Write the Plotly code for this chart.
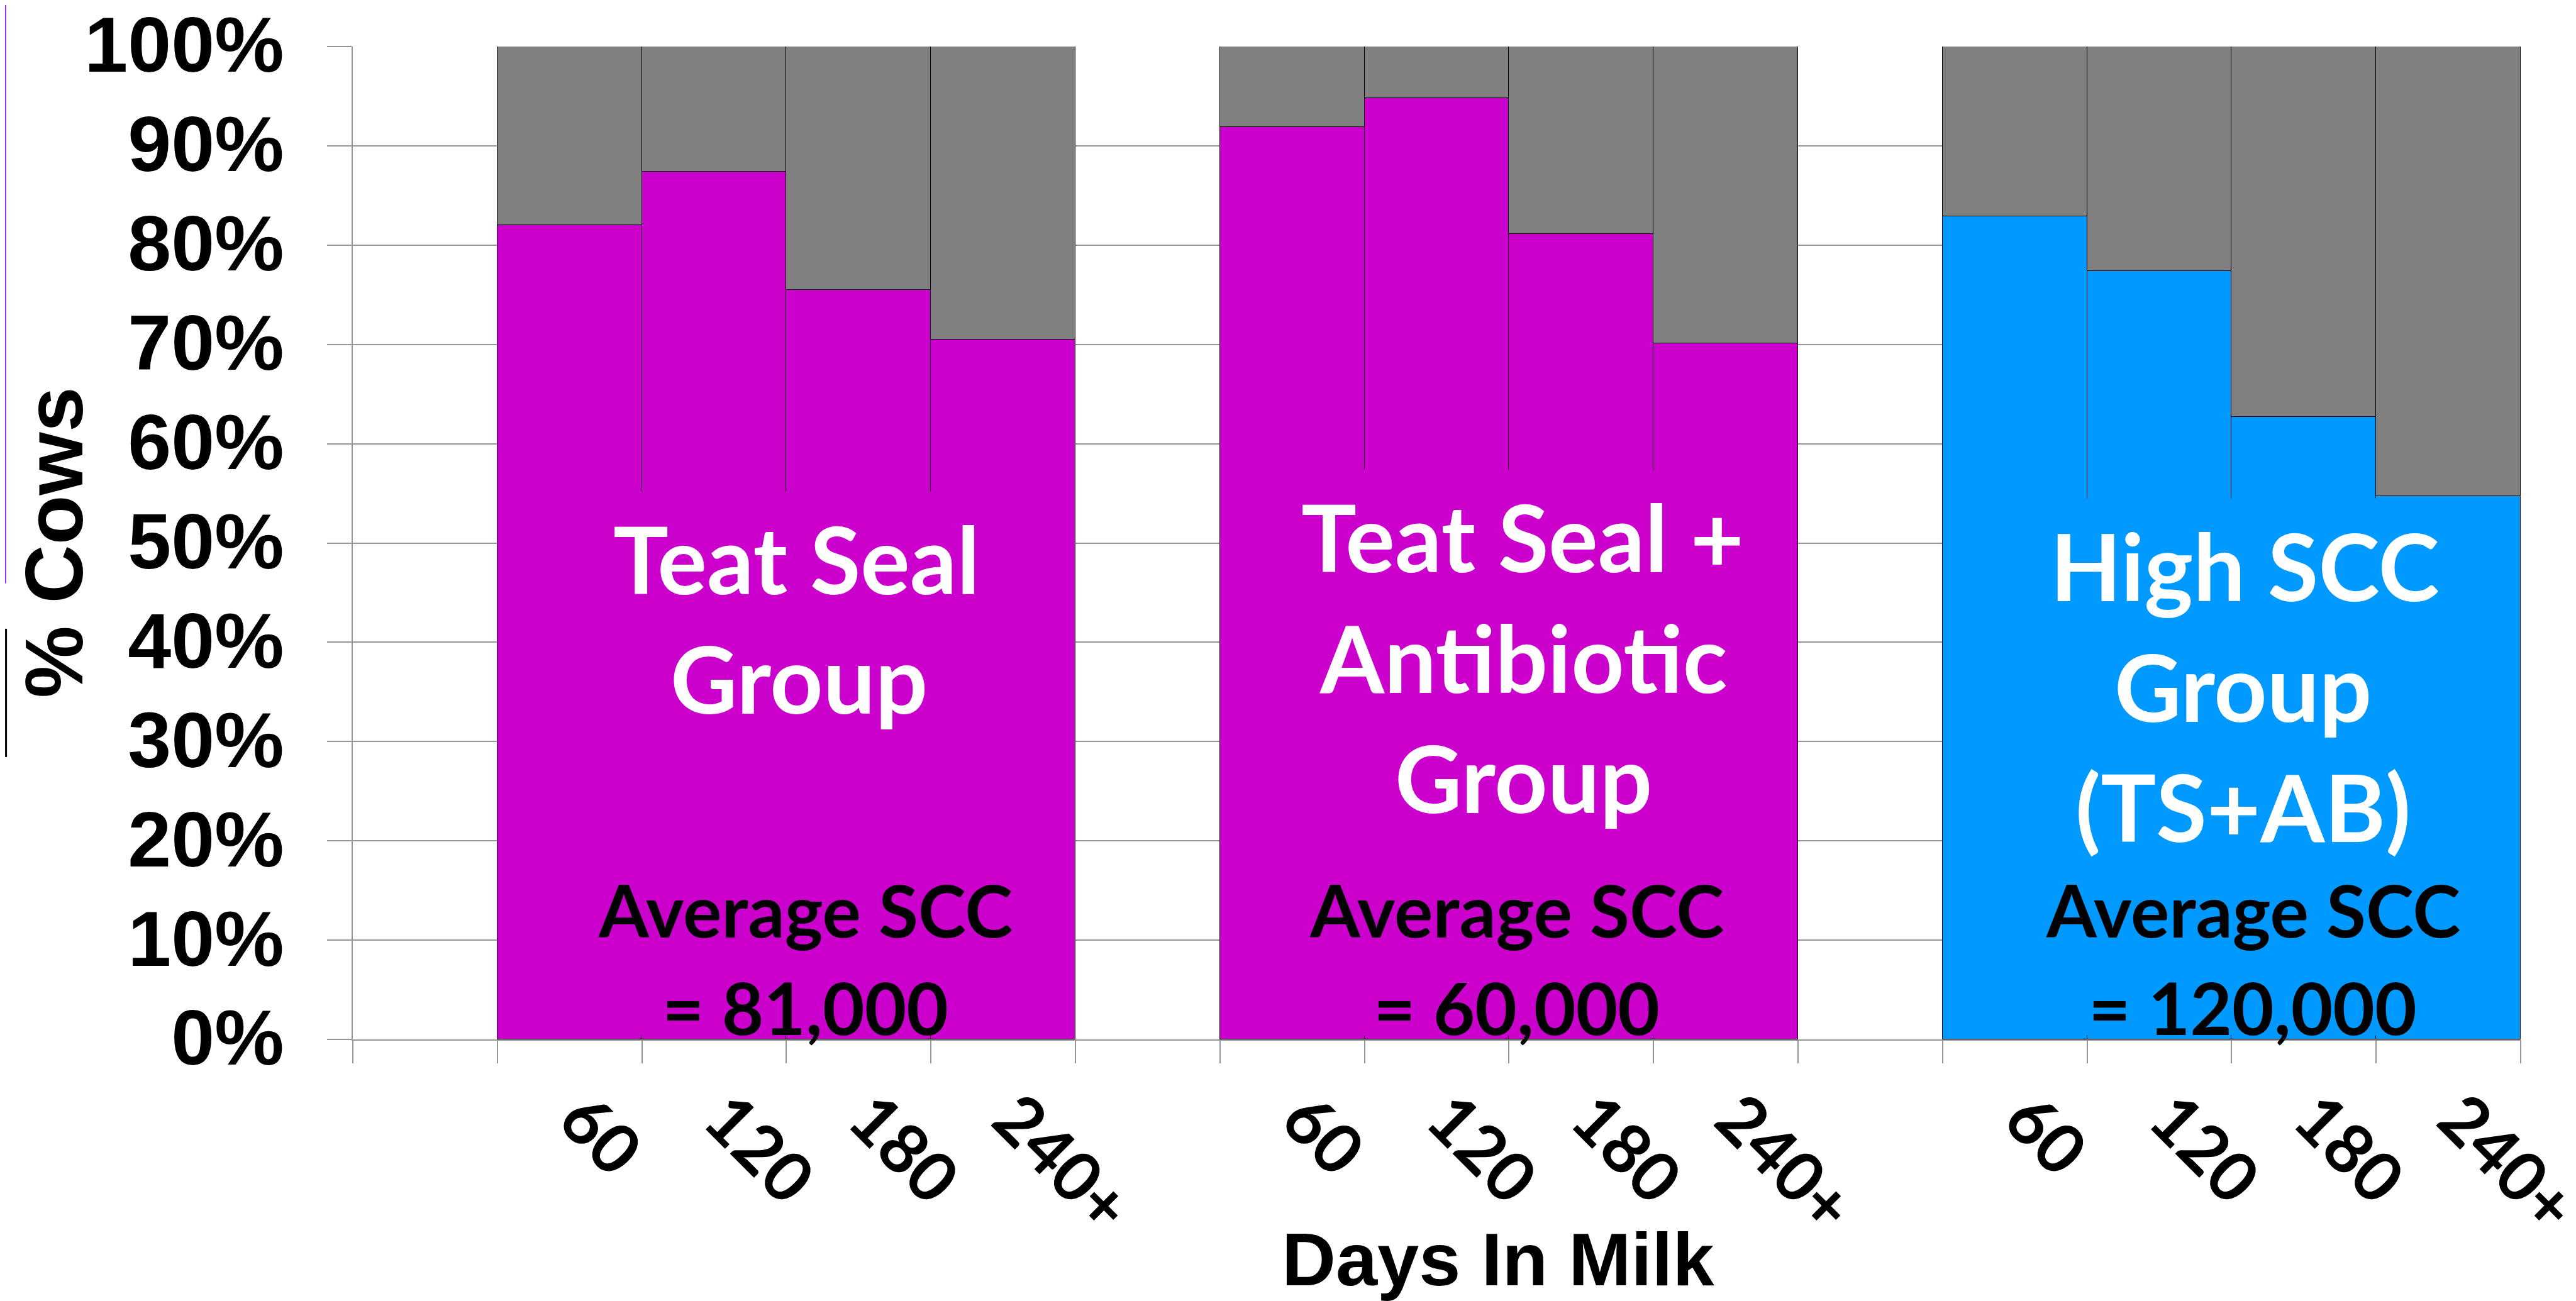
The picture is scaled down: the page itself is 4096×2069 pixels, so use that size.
import plotly.graph_objects as go

# ---------------- data ----------------
days = ["60", "120", "180", "240+"]
teat_seal = [82.0, 87.4, 75.5, 70.5]
teat_seal_ab = [91.9, 94.8, 81.1, 70.1]
high_scc = [82.9, 77.4, 62.7, 54.7]
group_values = [teat_seal, teat_seal_ab, high_scc]
group_titles = [["Teat Seal", "Group"],
                ["Teat Seal +", "Antibiotic", "Group"],
                ["High SCC", "Group", "(TS+AB)"]]
avg_scc_line1 = "Average SCC"
avg_scc = ["= 81,000", "= 60,000", "= 120,000"]
y_tick_values = [0, 10, 20, 30, 40, 50, 60, 70, 80, 90, 100]
y_tick_labels = [f"{v}%" for v in y_tick_values]
x_title = "Days In Milk"
y_title = "% Cows"

# ---------------- style ----------------
W, H = 4096, 2069
OFF = 8  # default page body margin
L, R, T, B = 561.0, 4008.5, 74.3, 1653.0   # plot area in window pixels
group_colors = ["#CC00CC", "#CC00CC", "#0099FF"]
rest_color = "#808080"
grid_color = "#969696"
slots_per_group = 5
n_slots = slots_per_group * len(group_values)

def px_x(px):
    return (px - L) / (R - L)

def px_y(py):
    return (B - py) / (B - T)

xs, pos_vals, rest_vals, colors, tick_centers, tick_text = [], [], [], [], [], []
for g, vals in enumerate(group_values):
    for i, v in enumerate(vals):
        slot = g * slots_per_group + 1 + i
        xs.append(slot)
        pos_vals.append(v)
        rest_vals.append(100 - v)
        colors.append(group_colors[g])
        tick_centers.append(slot)
        tick_text.append(days[i])

fig = go.Figure()
fig.add_trace(go.Bar(x=xs, y=pos_vals, width=1.0, marker=dict(color=colors, line=dict(color="black", width=1.5)),
                     showlegend=False, hoverinfo="skip"))
fig.add_trace(go.Bar(x=xs, y=rest_vals, width=1.0, marker=dict(color=rest_color, line=dict(color="black", width=1.5)),
                     showlegend=False, hoverinfo="skip"))
# invisible trace so the label axis is drawn
fig.add_trace(go.Scatter(x=tick_centers, y=[0] * len(tick_centers), xaxis="x2", yaxis="y", mode="markers",
                         marker=dict(opacity=0), showlegend=False, hoverinfo="skip"))

cover_tops = [55.2, 57.4, 54.5]
shapes = []
for g in range(len(group_values)):
    first = g * slots_per_group + 1
    shapes.append(dict(type="rect", xref="x", yref="y", layer="above",
                       x0=first - 0.5 + 0.012, x1=first + 3.5 - 0.012, y0=0.4, y1=cover_tops[g],
                       fillcolor=group_colors[g], line=dict(width=0)))

# left-edge slide artifacts (at the figure's own left edge)
shapes.append(dict(type="line", xref="paper", yref="paper", x0=px_x(OFF + 0.8), x1=px_x(OFF + 0.8),
                   y0=px_y(OFF), y1=px_y(928), line=dict(color="#7F00FF", width=1.5)))
shapes.append(dict(type="line", xref="paper", yref="paper", x0=px_x(OFF + 1.5), x1=px_x(OFF + 1.5),
                   y0=px_y(1000), y1=px_y(1204), line=dict(color="black", width=3)))

annotations = []
white_y = [[887.7, 1078.2], [853.1, 1045.0, 1236.1], [898.7, 1091.0, 1282.4]]
white_dx = [[16, 20], [22, 23, 23], [21, 18, 18]]
black_y = [1446.0, 1601.5]
black_dx = [30, 12, 34]
for g in range(len(group_values)):
    center = g * slots_per_group + 2.5
    for j, line in enumerate(group_titles[g]):
        annotations.append(dict(text=line, xref="x", yref="paper", x=center, xshift=white_dx[g][j],
                                y=px_y(white_y[g][j]), xanchor="center", yanchor="middle", showarrow=False,
                                font=dict(family="Lato", size=147, color="white", weight="bold")))
    for j, line in enumerate([avg_scc_line1, avg_scc[g]]):
        annotations.append(dict(text=line, xref="x", yref="paper", x=center, xshift=black_dx[g],
                                y=px_y(black_y[j]), xanchor="center", yanchor="middle", showarrow=False,
                                font=dict(family="Lato", size=115, color="black", weight="bold")))

annotations.append(dict(text=x_title, xref="paper", yref="paper", x=px_x(2383), y=px_y(2002),
                        xanchor="center", yanchor="middle", showarrow=False,
                        font=dict(family="Arial", size=119, color="black", weight="bold")))
annotations.append(dict(text=y_title, xref="paper", yref="paper", x=px_x(86), y=px_y(863),
                        xanchor="center", yanchor="middle", showarrow=False, textangle=-90,
                        font=dict(family="Arial", size=129, color="black", weight="bold")))

boundaries = [k - 0.5 for k in range(n_slots + 1)]
fig.update_layout(
    width=W, height=H, autosize=False,
    margin=dict(l=L - OFF, r=W - R + OFF, t=T - OFF, b=H - B + OFF, pad=0, autoexpand=False),
    paper_bgcolor="white", plot_bgcolor="white",
    barmode="stack", bargap=0,
    shapes=shapes, annotations=annotations,
    xaxis=dict(range=[-0.5, n_slots - 0.5], tickmode="array", tickvals=boundaries, showticklabels=False,
               ticks="outside", ticklen=36, tickwidth=1.5, tickcolor=grid_color, automargin=False,
               showline=True, linecolor=grid_color, linewidth=1.5, showgrid=False, zeroline=False),
    xaxis2=dict(range=[-0.5, n_slots - 0.5], overlaying="x", anchor="y", side="bottom",
                tickmode="array", tickvals=tick_centers, ticktext=tick_text, tickangle=45,
                ticks="", showline=False, showgrid=False, zeroline=False, ticklabelstandoff=40,
                ticklabelshift=16, ticklabeloverflow="allow", automargin=False,
                tickfont=dict(family="Lato", size=109, color="black", weight="bold")),
    yaxis=dict(range=[0, 100], tickmode="array", tickvals=y_tick_values, ticktext=y_tick_labels,
               ticks="outside", ticklen=39, tickwidth=1.5, tickcolor=grid_color, automargin=False,
               showgrid=True, gridcolor=grid_color, gridwidth=1.5,
               showline=True, linecolor=grid_color, linewidth=1.5, zeroline=False,
               ticklabelstandoff=44, ticklabeloverflow="allow", ticklabelshift=-3,
               tickfont=dict(family="Arial", size=124, color="black", weight="bold")),
)

fig.write_html("out.html")
